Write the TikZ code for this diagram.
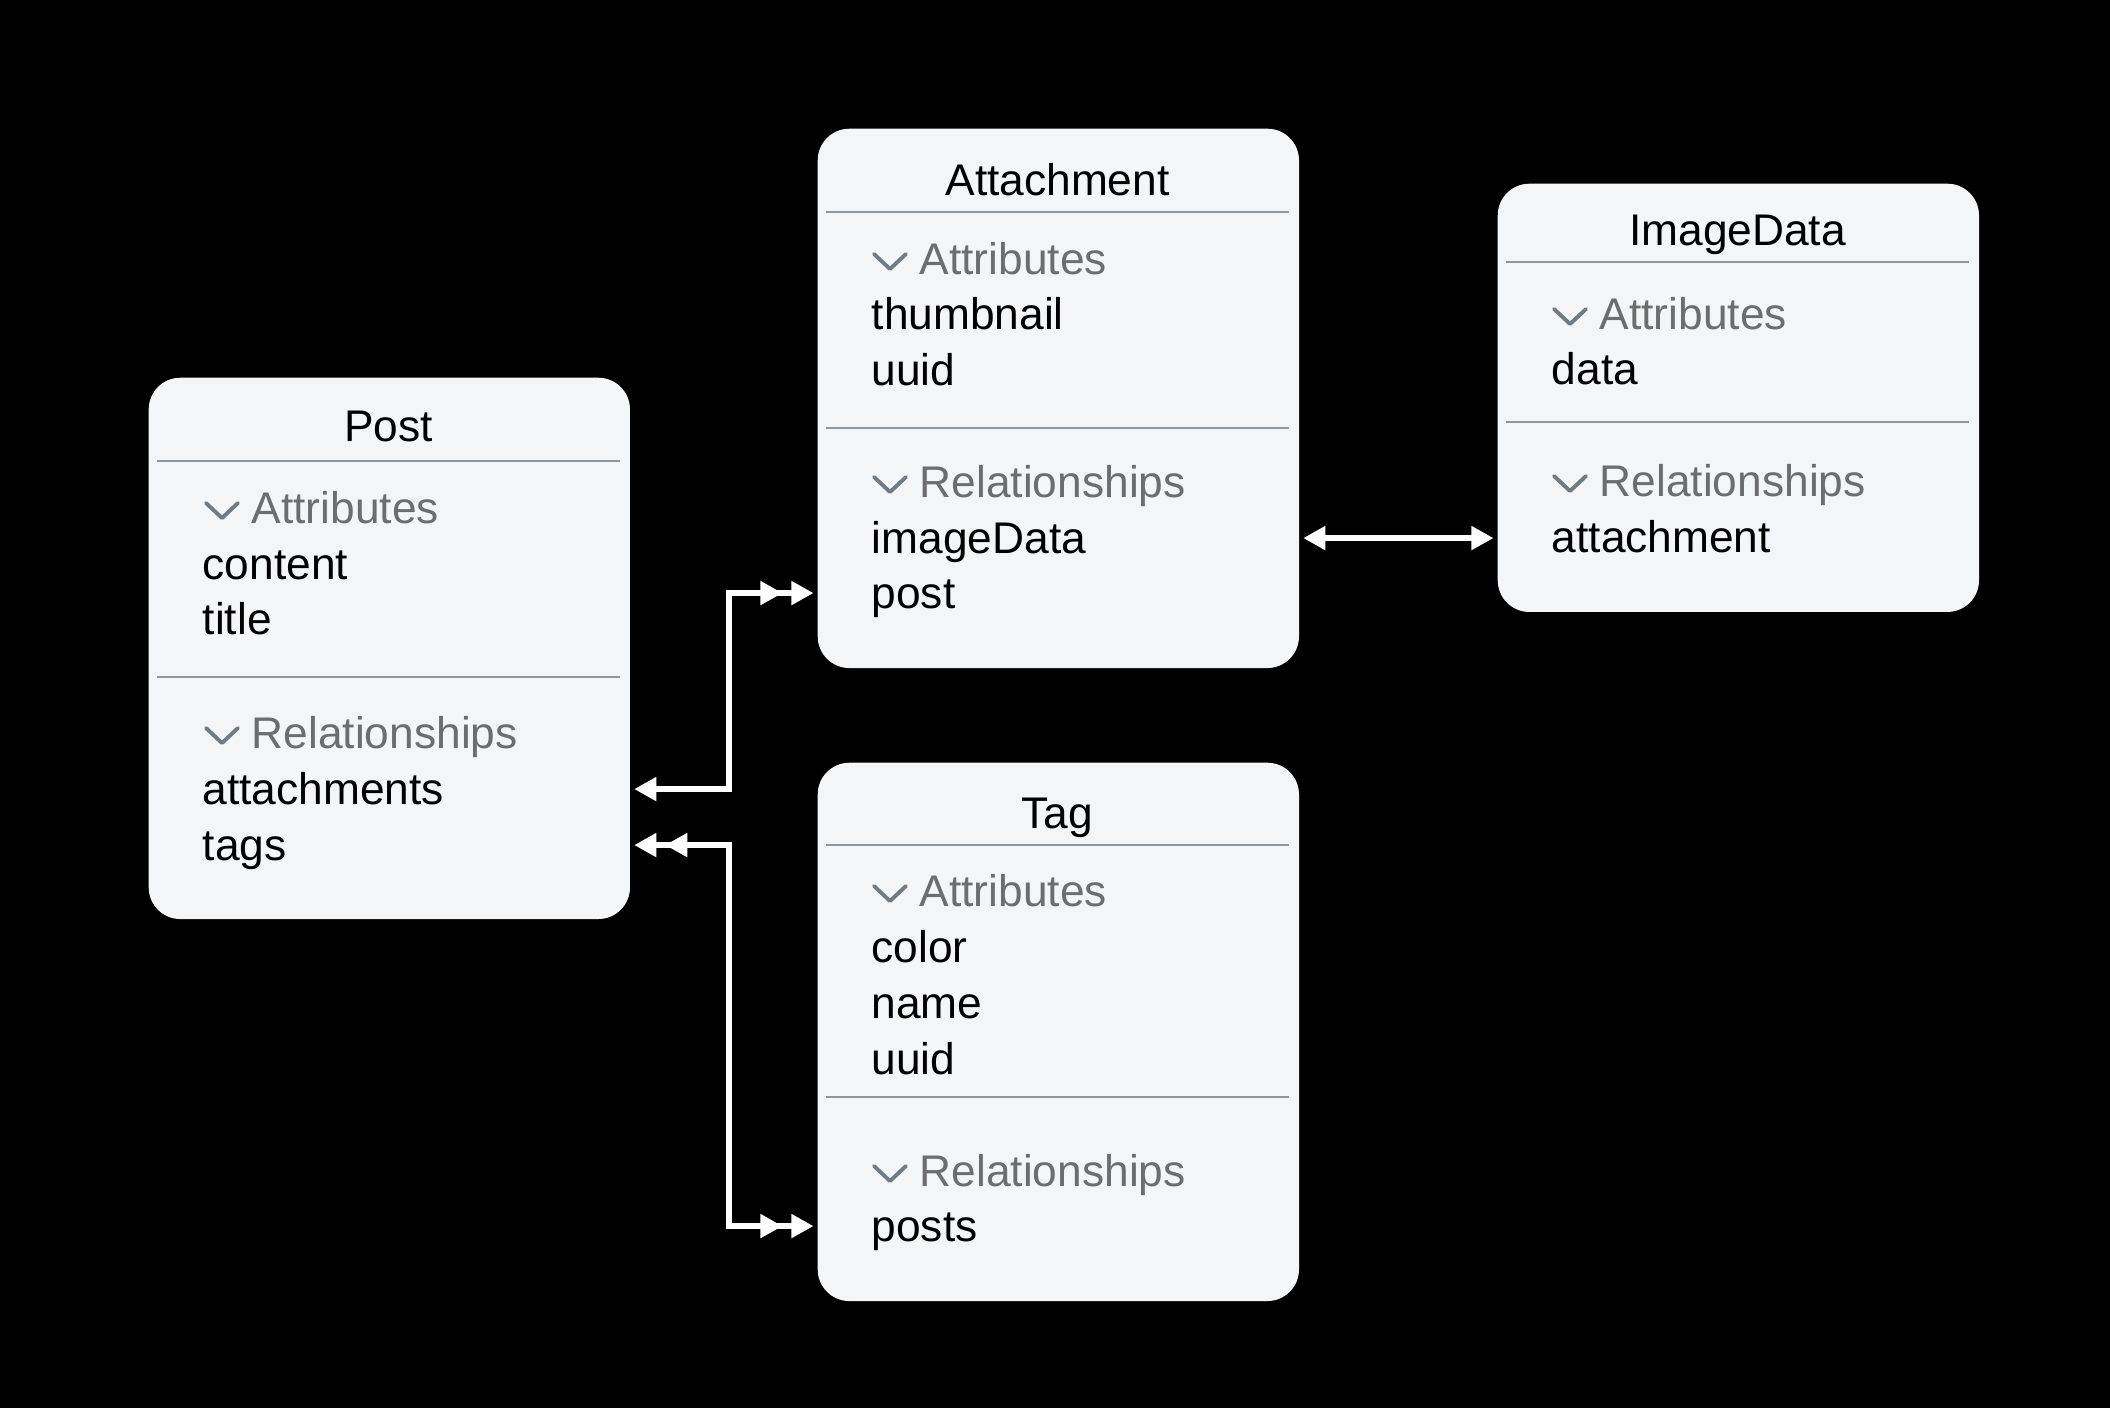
\documentclass[tikz,border=0pt]{standalone}
\usepackage{fontspec} % fonts
\setmainfont{Liberation Sans}
\usepackage{tikz}
\usetikzlibrary{arrows.meta}

\definecolor{boxfill}{HTML}{F4F5F7}
\definecolor{divgray}{HTML}{8E979E}
\definecolor{headgray}{HTML}{6D6D6D}
\definecolor{chevgray}{HTML}{6E7C86}

\newcommand{\entfont}{\fontsize{12.6}{15}\selectfont}

\tikzset{
  entbox/.style={fill=boxfill, rounded corners=9pt, minimum width=4.81cm,
                 inner sep=0pt, anchor=north west},
  entname/.style={font=\entfont, anchor=base, inner sep=0pt},
  sechead/.style={font=\entfont, text=headgray, anchor=base west, inner sep=0pt},
  rowtext/.style={font=\entfont, anchor=base west, inner sep=0pt,
                  text height=12pt, text depth=3.5pt},
  divider/.style={draw=divgray, line width=0.6pt},
  chevline/.style={draw=chevgray, line width=1.1pt, line cap=round, line join=round},
  link/.style={draw=white, line width=1.6pt, shorten <=1pt, shorten >=1pt},
  one/.tip={Triangle[length=6.3pt, width=6.5pt]},
  many/.tip={Triangle[length=6.3pt, width=6.5pt, sep=2.5pt]Triangle[length=6.3pt, width=6.5pt]}
}

\begin{document}
\begin{tikzpicture}[x=0.01cm, y=-0.01cm]
\fill[black] (0,0) rectangle (2110,1408);

% Post
\node[entbox, minimum height=5.41cm] (post) at (148,377) {};
\node[entname] (post-name) at (388.5,441) {Post};
\draw[divider] (157,461) -- (620,461);
\node[sechead] (post-attr) at (251,523) {Attributes};
\node[rowtext] (post-content) at (202,579) {content};
\node[rowtext] (post-title) at (202,634) {title};
\draw[divider] (157,677) -- (620,677);
\node[sechead] (post-rel) at (251,748) {Relationships};
\node[rowtext] (post-attachments) at (202,804) {attachments};
\node[rowtext] (post-tags) at (202,860) {tags};

% Attachment
\node[entbox, minimum height=5.39cm] (attachment) at (817,128) {};
\node[entname] (attachment-name) at (1057.5,195) {Attachment};
\draw[divider] (826,212) -- (1289,212);
\node[sechead] (attachment-attr) at (919,274) {Attributes};
\node[rowtext] (attachment-thumbnail) at (871,329) {thumbnail};
\node[rowtext] (attachment-uuid) at (871,385) {uuid};
\draw[divider] (826,428) -- (1289,428);
\node[sechead] (attachment-rel) at (919,497) {Relationships};
\node[rowtext] (attachment-imagedata) at (871,553) {imageData};
\node[rowtext] (attachment-post) at (871,608) {post};

% ImageData
\node[entbox, minimum height=4.28cm] (imagedata) at (1497,183) {};
\node[entname] (imagedata-name) at (1737.5,245) {ImageData};
\draw[divider] (1506,262) -- (1969,262);
\node[sechead] (imagedata-attr) at (1599,329) {Attributes};
\node[rowtext] (imagedata-data) at (1551,384) {data};
\draw[divider] (1506,422) -- (1969,422);
\node[sechead] (imagedata-rel) at (1599,496) {Relationships};
\node[rowtext] (imagedata-attachment) at (1551,552) {attachment};

% Tag
\node[entbox, minimum height=5.38cm] (tag) at (817,762) {};
\node[entname] (tag-name) at (1057.5,828) {Tag};
\draw[divider] (826,845) -- (1289,845);
\node[sechead] (tag-attr) at (919,906) {Attributes};
\node[rowtext] (tag-color) at (871,962) {color};
\node[rowtext] (tag-name) at (871,1018) {name};
\node[rowtext] (tag-uuid) at (871,1074) {uuid};
\draw[divider] (826,1097) -- (1289,1097);
\node[sechead] (tag-rel) at (919,1186) {Relationships};
\node[rowtext] (tag-posts) at (871,1241) {posts};

% chevrons in front of the section headers
\foreach \h in {post-attr, post-rel, attachment-attr, attachment-rel,
                imagedata-attr, imagedata-rel, tag-attr, tag-rel}
  \draw[chevline] (\h.base west) ++(-45,-20) -- ++(16,15) -- ++(16,-15);

% relationships
\coordinate (bus) at (729,0);
\draw[link, one-many]
(post.east |- post-attachments) -- (bus |- post-attachments)
  -- (bus |- attachment-post) -- (attachment.west |- attachment-post);
\draw[link, many-many]
(post.east |- post-tags) -- (bus |- post-tags)
  -- (bus |- tag-posts) -- (tag.west |- tag-posts);
\draw[link, one-one]
(attachment.east |- attachment-imagedata) -- (imagedata.west |- attachment-imagedata);
\end{tikzpicture}
\end{document}
